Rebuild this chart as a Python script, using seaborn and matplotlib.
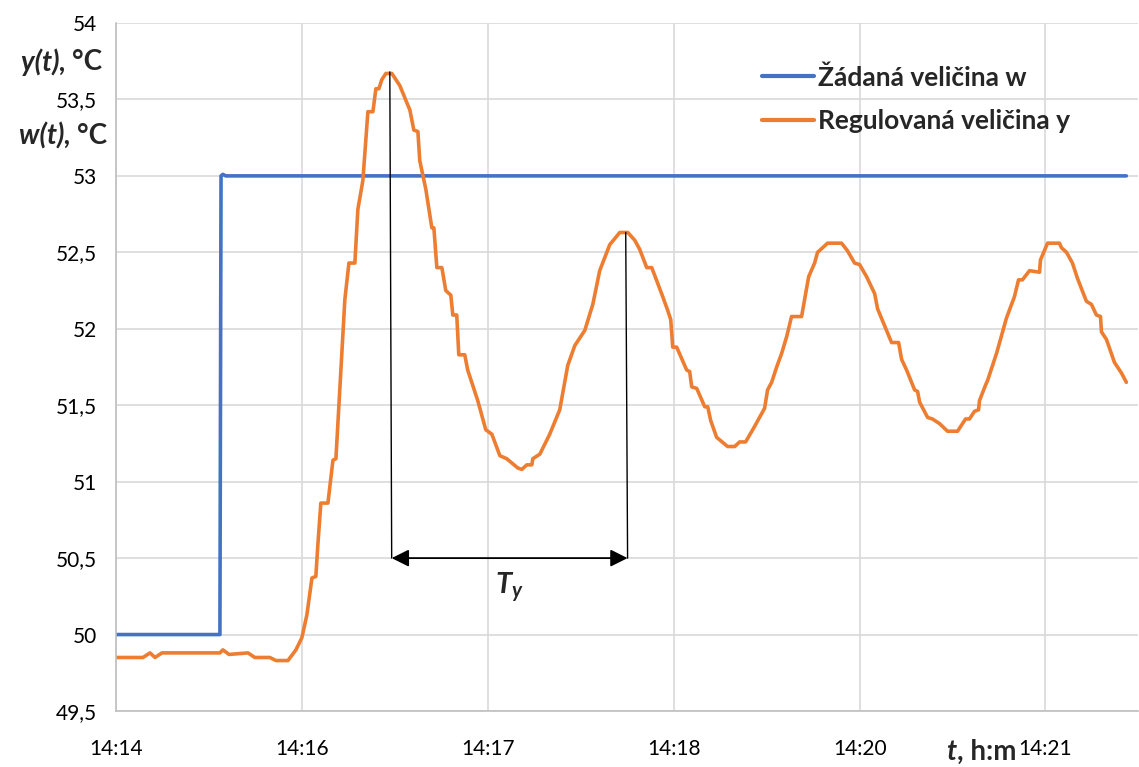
import numpy as np
import pandas as pd
import matplotlib
matplotlib.use('Agg')
import matplotlib.pyplot as plt
import seaborn as sns
from matplotlib.ticker import FuncFormatter

# Data (x in tick steps of the category axis, values in degC)
x_ticks = [0, 1, 2, 3, 4, 5]
x_labels = ['14:14', '14:16', '14:17', '14:18', '14:20', '14:21']

w_x = [0.0, 0.559, 0.565, 0.575, 0.59, 5.435]
w_y = [50.0, 50.0, 53.0, 53.01, 53.0, 53.0]

y_x = [0.000, 0.145, 0.183, 0.210, 0.247, 0.559, 0.575, 0.608, 0.710, 0.747, 0.828, 0.860,
       0.925, 0.968, 1.000, 1.027, 1.054, 1.075, 1.086, 1.102, 1.140, 1.167, 1.183, 1.204,
       1.231, 1.253, 1.285, 1.301, 1.328, 1.355, 1.382, 1.398, 1.414, 1.430, 1.452, 1.484,
       1.527, 1.581, 1.602, 1.624, 1.634, 1.667, 1.699, 1.710, 1.726, 1.753, 1.774, 1.801,
       1.812, 1.833, 1.844, 1.876, 1.892, 1.946, 1.989, 2.022, 2.065, 2.102, 2.161, 2.183,
       2.210, 2.237, 2.242, 2.280, 2.333, 2.387, 2.430, 2.468, 2.522, 2.565, 2.602, 2.656,
       2.710, 2.753, 2.790, 2.817, 2.855, 2.882, 2.935, 2.968, 2.984, 2.995, 3.016, 3.070,
       3.086, 3.097, 3.124, 3.167, 3.183, 3.199, 3.231, 3.290, 3.328, 3.355, 3.387, 3.430,
       3.462, 3.489, 3.505, 3.527, 3.554, 3.581, 3.608, 3.634, 3.688, 3.704, 3.726, 3.758,
       3.774, 3.801, 3.828, 3.903, 3.935, 3.973, 4.000, 4.038, 4.065, 4.081, 4.097, 4.172,
       4.210, 4.226, 4.253, 4.296, 4.312, 4.323, 4.366, 4.392, 4.430, 4.473, 4.527, 4.570,
       4.591, 4.618, 4.640, 4.645, 4.677, 4.688, 4.737, 4.790, 4.833, 4.855, 4.876, 4.914,
       4.968, 4.973, 5.011, 5.075, 5.086, 5.113, 5.145, 5.172, 5.220, 5.247, 5.274, 5.296,
       5.301, 5.328, 5.371, 5.409, 5.435]
y_y = [49.85, 49.85, 49.88, 49.85, 49.88, 49.88, 49.90, 49.87, 49.88, 49.85, 49.85, 49.83,
       49.83, 49.90, 49.98, 50.13, 50.37, 50.38, 50.59, 50.86, 50.86, 51.14, 51.15, 51.60,
       52.19, 52.43, 52.43, 52.78, 52.97, 53.42, 53.42, 53.57, 53.57, 53.63, 53.67, 53.67,
       53.59, 53.43, 53.30, 53.29, 53.10, 52.91, 52.66, 52.66, 52.40, 52.40, 52.25, 52.22,
       52.09, 52.09, 51.83, 51.83, 51.73, 51.53, 51.34, 51.31, 51.17, 51.15, 51.09, 51.08,
       51.11, 51.11, 51.15, 51.18, 51.31, 51.47, 51.76, 51.89, 51.99, 52.16, 52.38, 52.55,
       52.63, 52.63, 52.58, 52.52, 52.40, 52.40, 52.23, 52.12, 52.06, 51.88, 51.88, 51.73,
       51.72, 51.62, 51.61, 51.49, 51.49, 51.40, 51.29, 51.23, 51.23, 51.26, 51.26, 51.35,
       51.42, 51.48, 51.60, 51.65, 51.75, 51.84, 51.95, 52.08, 52.08, 52.19, 52.34, 52.43,
       52.50, 52.53, 52.56, 52.56, 52.51, 52.43, 52.42, 52.34, 52.27, 52.23, 52.13, 51.91,
       51.91, 51.80, 51.73, 51.60, 51.59, 51.52, 51.42, 51.41, 51.38, 51.33, 51.33, 51.41,
       51.41, 51.46, 51.47, 51.53, 51.63, 51.66, 51.84, 52.07, 52.21, 52.32, 52.32, 52.38,
       52.37, 52.45, 52.56, 52.56, 52.53, 52.50, 52.43, 52.33, 52.18, 52.16, 52.09, 52.08,
       51.98, 51.93, 51.78, 51.71, 51.65]

# Period marker: two peaks and arrow level
peak_x = [1.473, 2.742]
peak_y = [53.68, 52.63]
arrow_y = 50.5

w_df = pd.DataFrame({'x': w_x, 'val': w_y})
y_df = pd.DataFrame({'x': y_x, 'val': y_y})

sns.set_style('white')
plt.rcParams['font.family'] = ['Lato', 'DejaVu Sans']
plt.rcParams['mathtext.fontset'] = 'custom'
plt.rcParams['mathtext.it'] = 'Lato:italic:bold'
plt.rcParams['mathtext.rm'] = 'Lato:bold'

fig = plt.figure(figsize=(11.39, 7.67), dpi=100)
ax = fig.add_axes([116 / 1139, 1 - 711 / 767, 1 - 116 / 1139 - 0.0005, (711 - 23) / 767])

sns.lineplot(data=w_df, x='x', y='val', ax=ax, color='#4472C4', lw=2.6,
             estimator=None, sort=False, label='Žádaná veličina w')
sns.lineplot(data=y_df, x='x', y='val', ax=ax, color='#ED7D31', lw=2.6,
             estimator=None, sort=False, label='Regulovaná veličina y')

# period annotation
for px, py in zip(peak_x, peak_y):
    ax.plot([px, px + 0.01], [py, arrow_y], color='black', lw=1.0)
ax.annotate('', xy=(peak_x[0] + 0.01, arrow_y), xytext=(peak_x[1] + 0.01, arrow_y),
            arrowprops=dict(arrowstyle='<|-|>', color='black', lw=1.3,
                            mutation_scale=26, shrinkA=0, shrinkB=0))
ax.text((peak_x[0] + peak_x[1]) / 2 + 0.01, arrow_y - 0.08, r'$T_y$',
        ha='center', va='top', fontsize=21)

ax.set_xlim(0, 5.5)
ax.set_ylim(49.5, 54)
ax.set_xticks(x_ticks)
ax.set_xticklabels(x_labels)
ax.set_yticks(np.arange(49.5, 54.01, 0.5))
ax.yaxis.set_major_formatter(FuncFormatter(lambda v, p: ('%g' % v).replace('.', ',')))
ax.tick_params(axis='both', length=0, labelsize=15, colors='black')
ax.tick_params(axis='y', pad=14)
ax.tick_params(axis='x', pad=20)
ax.grid(True, color='#d9d9d9', lw=1.2)
ax.set_xlabel('')
ax.set_ylabel('')
for s in ['top', 'right']:
    ax.spines[s].set_visible(False)
for s in ['left', 'bottom']:
    ax.spines[s].set_color('#bfbfbf')
    ax.spines[s].set_linewidth(1.2)

leg = ax.legend(loc='upper left', bbox_to_anchor=((762 - 116) / 1023, 1 - (65 - 23) / 688),
                frameon=False, borderpad=0, borderaxespad=0,
                prop={'weight': 'bold', 'size': 19}, handlelength=2.0,
                handletextpad=0.15, labelspacing=0.75)
for line in leg.get_lines():
    line.set_linewidth(3.0)


# axis titles made of an italic part and an upright part
def two_part_label(italic, upright, right_px, y_px, size=20):
    t2 = fig.text(right_px / 1139, 1 - y_px / 767, upright, ha='right', va='center',
                  fontsize=size, fontweight='bold')
    fig.canvas.draw()
    bb = t2.get_window_extent()
    fig.text(bb.x0 / 1139, 1 - y_px / 767, italic, ha='right', va='center',
             fontsize=size, fontweight='bold', fontstyle='italic')


two_part_label('y(t), ', '°C', 102, 62)
two_part_label('w(t), ', '°C', 107, 136)
two_part_label('t', ', h:m', 1016, 752)

fig.savefig('out.png', dpi=100)
